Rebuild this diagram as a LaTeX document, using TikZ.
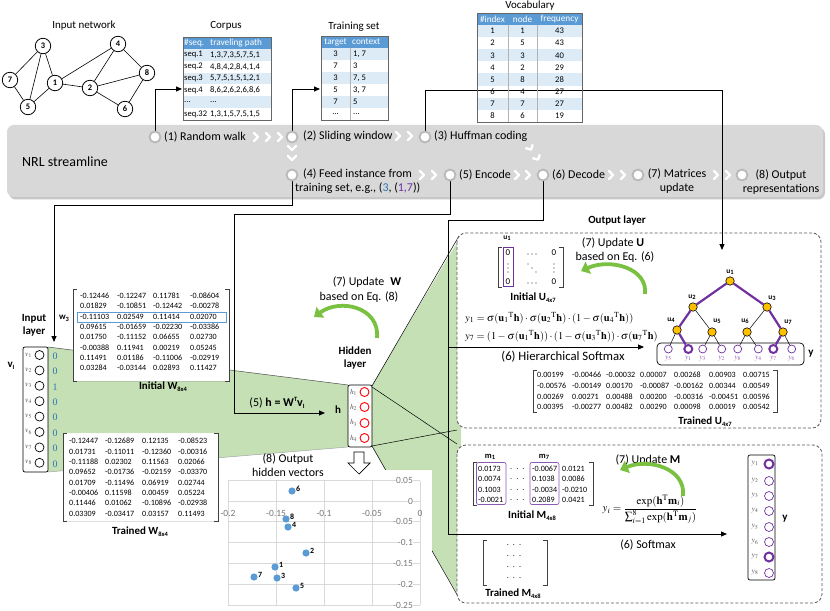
\documentclass[tikz,border=0pt]{standalone}
\usepackage{mathptmx}
\usepackage{fontspec}
\setmainfont{Carlito}
\newfontfamily\serifnum{Liberation Serif}
\usetikzlibrary{arrows.meta,shadows}
\definecolor{tblue}{RGB}{91,155,213}
\definecolor{tlight}{RGB}{221,235,247}
\definecolor{bandgray}{RGB}{216,216,216}
\definecolor{regreen}{RGB}{197,224,180}
\definecolor{arrgreen}{RGB}{122,193,66}
\definecolor{purp}{RGB}{112,48,160}
\definecolor{orng}{RGB}{255,192,0}
\definecolor{numblue}{RGB}{46,117,182}
\definecolor{dotblue}{RGB}{91,155,213}
\definecolor{axgray}{RGB}{120,120,120}
\definecolor{gridgray}{RGB}{217,217,217}
\newcommand\sbx[1]{\raisebox{-0.4ex}{\fontsize{6.5}{7}\selectfont\bfseries #1}}
\newcommand\tdots{.{}.{}.}
\begin{document}
\begin{tikzpicture}[x=1bp,y=-1bp,
  conn/.style={line width=0.9pt},
  arr/.style={line width=0.9pt,-{Triangle[length=6pt,width=5pt]}},
  net/.style={circle,draw,line width=0.8pt,fill=white,minimum size=15.5pt,inner sep=0pt,font=\fontsize{8.5}{9}\selectfont\bfseries},
  ttl/.style={font=\fontsize{11}{13}\selectfont,inner sep=0pt},
  tb/.style={font=\fontsize{8.6}{10}\selectfont,inner sep=0pt},
  tbh/.style={font=\fontsize{9.3}{10}\selectfont,inner sep=0pt,text=white},
  lbl/.style={font=\fontsize{12}{13.5}\selectfont,inner sep=0pt},
  mn/.style={font=\fontsize{8.1}{9}\selectfont,inner sep=0pt,anchor=west},
  btn/.style={circle,fill=white,draw=black!28,line width=1.8pt,minimum size=11pt,inner sep=0pt},
  chev/.style={white,line width=2.4pt,line cap=round,line join=round},
  bftxt/.style={font=\fontsize{11}{13}\selectfont\bfseries,inner sep=0pt},
  sm/.style={font=\fontsize{7.5}{8}\selectfont,inner sep=0pt},
  dbox/.style={draw=black!65,dash pattern=on 3pt off 2pt,line width=0.8pt,fill=white,rounded corners=9pt},
  garr/.style={arrgreen,line width=3.8pt,-{Triangle[length=8pt,width=13pt]}},
  shad/.style={drop shadow={shadow xshift=1.5pt,shadow yshift=-1.5pt,opacity=0.25}},
  brk/.style={line width=0.9pt,draw=black!75},
  tnode/.style={circle,draw,line width=0.6pt,fill=orng,minimum size=8.5pt,inner sep=0pt},
  leaf/.style={circle,draw=purp,line width=0.7pt,fill=white,minimum size=8pt,inner sep=0pt},
  leafb/.style={leaf,line width=2pt},
  pedge/.style={purp,line width=2.2pt},
  tedge/.style={line width=0.5pt},
  ulbl/.style={font=\fontsize{7.5}{8}\selectfont\bfseries,inner sep=0pt}
]
\useasboundingbox (0,0) rectangle (830,611);

% ---------------- green fans
\fill[regreen] (48,347) -- (348,385) -- (348,447) -- (48,472) -- cycle;
\fill[regreen] (372,385) -- (461,236) -- (461,600) -- (372,447) -- cycle;
\draw[black!70,line width=0.5pt] (48,347) -- (348,385);
\draw[black!35,line width=0.5pt] (48,472) -- (348,447);
\draw[line width=0.5pt] (372,386) -- (459,236);
\draw[line width=0.5pt] (372,446) -- (459,598);
\draw[line width=0.5pt] (372,387) -- (457,444);
\draw[line width=0.5pt] (372,446) -- (457,430);

% ---------------- input network
\node[ttl] at (84,26) {Input network};
\node[net] (n3) at (43,46) {3};
\node[net] (n4) at (118,44) {4};
\node[net] (n7) at (10,80) {7};
\node[net] (n1) at (55,83) {1};
\node[net] (n2) at (90,88) {2};
\node[net] (n8) at (147,73) {8};
\node[net] (n5) at (28,107) {5};
\node[net] (n6) at (125,109) {6};
\foreach \a/\b in {3/7,3/5,3/1,7/5,5/1,1/4,1/2,4/2,4/8,2/8,2/6,8/6}
  \draw[line width=0.6pt] (n\a) -- (n\b);

% ---------------- streamline band
\fill[black!22,rounded corners=7pt] (9,127.5) rectangle (825,199.5);
\fill[bandgray,rounded corners=7pt] (7,125) rectangle (823,197);
\node[font=\fontsize{14}{16}\selectfont,anchor=west,inner sep=0pt] at (22,162) {NRL streamline};

\coordinate (p1) at (155,137);
\coordinate (p2) at (292,137);
\coordinate (p3) at (425,137);
\coordinate (p4) at (292,175);
\coordinate (p5) at (450,175);
\coordinate (p6) at (543,175);
\coordinate (p7) at (638,175);
\coordinate (p8) at (742,175);

% ---------------- white boxes
\path[shad,fill=white] (73,289) rectangle (229,381);
\path[shad,fill=white] (63,433) rectangle (218,521);
\fill[white] (222,470) rectangle (432,611);
\draw[dbox] (457,233) rectangle (821,428);
\draw[dbox] (457,445) rectangle (822,603);

% ---------------- connectors
\coordinate (corpusin) at (182,89);
\coordinate (trainin) at (320,89);
\coordinate (treein) at (722,250);
\coordinate (inlayer) at (54,342);
\coordinate (hin) at (325,413);
\coordinate (hsm) at (644,347);
\coordinate (ssm) at (727,534);
\draw[arr] (p1) -- (155,89) -- (corpusin);
\draw[arr] (p2) -- (292,89) -- (trainin);
\draw[arr] (p3) -- (425,90) -- (722,90) -- (treein);
\draw[arr] (p4) -- (292,205) -- (54,205) -- (inlayer);
\draw[arr] (p5) -- (450,214) -- (234,214) -- (234,413) -- (hin);
\draw[arr] (p6) -- (543,220) -- (448,220) -- (448,534) -- (ssm);
\draw[arr] (448,347) -- (hsm);

% ---------------- corpus table
\node[ttl] at (226,26) {Corpus};
\fill[tblue] (183,37) rectangle (271,49);
\foreach \i in {0,2,4} \fill[tlight] (183,{49+\i*11.83}) rectangle (271,{49+(\i+1)*11.83});
\draw[black!60,line width=0.6pt] (183,37) rectangle (271,120);
\node[tbh,anchor=west] at (184,43) {\#seq.};
\node[tbh,anchor=west] at (210,43) {traveling path};
\foreach \i/\a/\b in {1/seq.1/{1,3,7,3,5,7,5,1},2/seq.2/{4,8,4,2,8,4,1,4},3/seq.3/{5,7,5,1,5,1,2,1},4/seq.4/{8,6,2,6,2,6,8,6},5/{\tdots}/{\tdots},6/seq.32/{1,3,1,5,7,5,1,5}}{
  \node[tb,anchor=west] at (184,{49+(\i-0.5)*11.83}) {\a};
  \node[tb,anchor=west] at (210,{49+(\i-0.5)*11.83}) {\b};
}

% ---------------- training set
\node[ttl] at (354,27) {Training set};
\fill[tblue] (321,36) rectangle (388,48);
\foreach \i in {0,2,4} \fill[tlight] (321,{48+\i*12}) rectangle (388,{48+(\i+1)*12});
\draw[black!30,line width=0.5pt] (350,48) -- (350,120);
\draw[black!60,line width=0.6pt] (321,36) rectangle (388,120);
\node[tbh] at (335.5,42) {target};
\node[tbh,anchor=west] at (352,42) {context};
\foreach \i/\a/\b in {1/3/{1, 7},2/7/3,3/3/{7, 5},4/5/{3, 7},5/7/5,6/{\tdots}/{\tdots}}{
  \node[tb] at (335.5,{48+(\i-0.5)*12}) {\a};
  \node[tb,anchor=west] at (353,{48+(\i-0.5)*12}) {\b};
}

% ---------------- vocabulary
\node[ttl] at (530,6) {Vocabulary};
\fill[tblue] (477,13) rectangle (582,25);
\foreach \i in {0,2,4,6} \fill[tlight] (477,{25+\i*12.125}) rectangle (582,{25+(\i+1)*12.125});
\draw[black!30,line width=0.5pt] (508,25) -- (508,122) (537,25) -- (537,122);
\draw[black!60,line width=0.6pt] (477,13) rectangle (582,122);
\node[tbh] at (492.5,19) {\#index};
\node[tbh] at (522.5,19) {node};
\node[tbh] at (559.5,19) {frequency};
\foreach \i/\a/\b/\c in {1/1/1/43,2/2/5/43,3/3/3/40,4/4/2/29,5/5/8/28,6/6/4/27,7/7/7/27,8/8/6/19}{
  \node[tb] at (492.5,{25+(\i-0.5)*12.125}) {\a};
  \node[tb] at (522.5,{25+(\i-0.5)*12.125}) {\b};
  \node[tb] at (559.5,{25+(\i-0.5)*12.125}) {\c};
}

% ---------------- buttons, chevrons, band texts
\foreach \i in {1,2,3,4,5,6,7,8} \node[btn] (c\i) at (p\i) {};
\foreach \x in {257,269,281} \draw[chev] (\x-3,133) -- (\x+1,137) -- (\x-3,141);
\foreach \x in {399,411} \draw[chev] (\x-3,132) -- (\x+1,136) -- (\x-3,140);
\foreach \y in {149,159} \draw[chev] (288,\y-3) -- (292,\y+1) -- (296,\y-3);
\draw[chev] (532.6,145.0) -- (531.1,149.6) -- (526.0,148.2);
\draw[chev] (539.6,155.0) -- (538.1,159.6) -- (533.0,158.2);
\foreach \x in {423,435,518,529,612,624,717,729} \draw[chev] (\x-3,171) -- (\x+1,175) -- (\x-3,179);

\node[lbl,anchor=west] at (164,137) {(1) Random walk};
\node[lbl,anchor=west] at (303,136) {(2) Sliding window};
\node[lbl,anchor=west] at (434,136) {(3) Huffman coding};
\node[lbl,anchor=west] at (303,174) {(4) Feed instance from};
\node[lbl,anchor=west] at (295,188) {training set, e.g., (\textcolor{numblue}{3}, (\textcolor{purp}{1,7}))};
\node[lbl,anchor=west] at (459,175) {(5) Encode};
\node[lbl,anchor=west] at (552,175) {(6) Decode};
\node[lbl,align=center] at (677,181) {(7) Matrices\\update};
\node[lbl,align=center] at (781,182) {(8) Output\\representations};

% ---------------- input layer
\node[bftxt,align=center] at (34,325) {Input\\layer};
\node[font=\fontsize{11}{13}\selectfont\bfseries,inner sep=0pt] at (11,366) {v\sbx{I}};
\node[draw,rounded corners=2pt,fill=white,minimum width=25bp,minimum height=125bp,inner sep=0pt,line width=0.7pt] (vbox) at (35.5,409.5) {};
\foreach \i/\v in {1/0,2/0,3/1,4/0,5/0,6/0,7/0,8/0}{
  \node[sm,text=black!70] at (28.5,{355+15.4*(\i-1)}) {$v_{\i}$};
  \draw[line width=0.7pt] (39.5,{355+15.4*(\i-1)}) circle (4.5);
  \node[inner sep=0pt,font=\serifnum\fontsize{10}{10}\selectfont,text=numblue] at (55,{356+15.4*(\i-1)}) {\v};
}

% ---------------- initial W
\draw[brk] (77,289) -- (73,289) -- (73,381) -- (77,381);
\draw[brk] (225,289) -- (229,289) -- (229,381) -- (225,381);
\draw[tblue,line width=0.7pt] (77,312) rectangle (226,322);
\node[font=\fontsize{9}{10}\selectfont\bfseries,inner sep=0pt] at (64,318) {w\sbx{3}};
\foreach \y/\a/\b/\c/\d in {296/-0.12446/-0.12247/0.11781/-0.08604,306/0.01829/-0.10851/-0.12442/-0.00278,317/-0.11103/0.02549/0.11414/0.02070,327/0.09615/-0.01659/-0.02230/-0.03386,337/0.01750/-0.11152/0.06655/0.02730,348/-0.00388/0.11941/0.00219/0.05245,358/0.11491/0.01186/-0.11006/-0.02919,368/0.03284/-0.03144/0.02893/0.11427}{
  \node[mn] at (80,\y) {\a};
  \node[mn] at (117,\y) {\b};
  \node[mn] at (153,\y) {\c};
  \node[mn] at (190,\y) {\d};
}
\node[bftxt] at (163,387) {Initial W\sbx{8x4}};

% ---------------- trained W
\draw[brk] (67,433) -- (63,433) -- (63,521) -- (67,521);
\draw[brk] (214,433) -- (218,433) -- (218,521) -- (214,521);
\foreach \y/\a/\b/\c/\d in {441/-0.12447/-0.12689/0.12135/-0.08523,452/0.01731/-0.11011/-0.12360/-0.00316,462/-0.11188/0.02302/0.11563/0.02066,472/0.09652/-0.01736/-0.02159/-0.03370,483/0.01709/-0.11496/0.06919/0.02744,493/-0.00406/0.11598/0.00459/0.05224,503/0.11446/0.01062/-0.10896/-0.02938,514/0.03309/-0.03417/0.03157/0.11493}{
  \node[mn] at (69,\y) {\a};
  \node[mn] at (105,\y) {\b};
  \node[mn] at (142,\y) {\c};
  \node[mn] at (178,\y) {\d};
}
\node[bftxt] at (140,532) {Trained W\sbx{8x4}};

% ---------------- hidden layer
\node[draw,rounded corners=2pt,fill=white,minimum width=24bp,minimum height=62bp,inner sep=0pt,line width=0.7pt] (hbox) at (360,416) {};
\foreach \i/\y in {1/392,2/407,3/423,4/438}{
  \node[sm,text=black!70] at (353.5,\y) {$h_{\i}$};
  \draw[red,line width=0.9pt] (364.5,\y) circle (4.5);
}
\node[bftxt] at (338,410) {h};
\node[lbl] at (277,403) {(5) \textbf{h = W}\raisebox{0.8ex}{\fontsize{6.5}{7}\selectfont\bfseries T}\textbf{v}\sbx{I}};
\node[bftxt,align=center] at (355,358) {Hidden\\layer};
\node[lbl] at (367,282) {(7) Update\enspace\textbf{W}};
\node[lbl] at (359,297) {based on Eq. (8)};
\draw[garr] (377,338) .. controls (380,307) and (340,298) .. (314,317);

% ---------------- scatter plot
\node[lbl,align=center] at (288,465) {(8) Output\\hidden vectors};
\draw[line width=0.7pt,fill=white] (354,452) -- (364,452) -- (364,463) -- (370,463) -- (359,474) -- (348,463) -- (354,463) -- cycle;
\foreach \v in {0.05,0,-0.05,-0.1,-0.15,-0.2,-0.25}
  \draw[gridgray,line width=0.7pt] (228,{501-\v*416}) -- (420,{501-\v*416});
\foreach \v in {-0.2,-0.15,-0.1,-0.05,0}
  \draw[gridgray,line width=0.7pt] ({420+\v*960},481) -- ({420+\v*960},605);
\foreach \v in {0.05,0,-0.05,-0.1,-0.15,-0.2,-0.25}
  \node[inner sep=0pt,anchor=east,font=\fontsize{9.5}{10}\selectfont,text=axgray,fill=white] at (413,{501-\v*416}) {\v};
\foreach \v in {-0.2,-0.15,-0.1,-0.05,0}
  \node[inner sep=0pt,font=\fontsize{9.5}{10}\selectfont,text=axgray] at ({420+\v*960},513) {\v};
\foreach \x/\y/\t in {292/491/6,286/519/8,288/527/4,306/553/2,275/567/1,254/577/7,277/578/3,296/588/5}{
  \fill[dotblue] (\x,\y) circle (3.6);
  \node[inner sep=0pt,anchor=west,font=\fontsize{8}{9}\selectfont\bfseries] at (\x+4,\y-2.5) {\t};
}

% ---------------- output layer (hierarchical softmax)
\node[bftxt] at (617,221) {Output layer};
\node[ulbl] at (507,238) {u\sbx{1}};
\draw[brk] (502,247) -- (498,247) -- (498,287) -- (502,287);
\draw[brk] (559,247) -- (563,247) -- (563,287) -- (559,287);
\draw[purp,line width=0.7pt] (503,247.5) rectangle (513,286.5);
\node[inner sep=0pt,font=\fontsize{9}{10}\selectfont] at (508,253) {0};
\node[inner sep=0pt,font=\fontsize{9}{10}\selectfont] at (554,253) {0};
\node[inner sep=0pt,font=\fontsize{9}{10}\selectfont] at (508,282) {0};
\node[inner sep=0pt,font=\fontsize{9}{10}\selectfont] at (554,282) {0};
\foreach \d in {-4,0,4}{
  \fill[black!80] (532+\d,254) circle (0.55);
  \fill[black!80] (532+\d,283) circle (0.55);
  \fill[black!80] (508,268+\d) circle (0.55);
  \fill[black!80] (554,268+\d) circle (0.55);
  \fill[black!80] (532+\d,268+\d) circle (0.55);
}
\node[bftxt] at (533,298) {Initial U\sbx{4x7}};
\node[lbl] at (613,243) {(7) Update \textbf{U}};
\node[lbl] at (615,257) {based on Eq. (6)};
\draw[garr] (645,294) .. controls (648,268) and (610,258) .. (581,271);
\node[inner sep=0pt,anchor=west,font=\fontsize{10.5}{12}\selectfont] at (465,318) {$y_1=\sigma(\mathbf{u}_1{}^{\mathrm{T}}\mathbf{h})\cdot\sigma(\mathbf{u}_2{}^{\mathrm{T}}\mathbf{h})\cdot(1-\sigma(\mathbf{u}_4{}^{\mathrm{T}}\mathbf{h}))$};
\node[inner sep=0pt,anchor=west,font=\fontsize{10.5}{12}\selectfont] at (465,336) {$y_7=(1-\sigma(\mathbf{u}_1{}^{\mathrm{T}}\mathbf{h}))\cdot(1-\sigma(\mathbf{u}_3{}^{\mathrm{T}}\mathbf{h}))\cdot\sigma(\mathbf{u}_7{}^{\mathrm{T}}\mathbf{h})$};
\node[lbl,font=\fontsize{12.8}{14}\selectfont] at (563,357) {(6) Hierarchical Softmax};

% tree
\draw[rounded corners=4pt,line width=0.7pt,fill=white] (657,343) rectangle (804,365);
\node[tnode] (u1) at (730,281) {};
\node[tnode] (u2) at (693,307) {};
\node[tnode] (u3) at (767,307) {};
\node[tnode] (u4) at (677,330) {};
\node[tnode] (u5) at (712,332) {};
\node[tnode] (u6) at (747,332) {};
\node[tnode] (u7) at (783,332) {};
\foreach \i/\x/\t in {1/668.3/5,2/688.3/1,3/702.7/3,4/721.7/2,5/737.7/8,6/758.3/4,7/773.3/7,8/791.7/6}{
  \node[sm,text=purp!80] at (\x,358.5) {$y_{\t}$};
}
\foreach \i/\x in {1/668.3,3/702.7,4/721.7,5/737.7,6/758.3,8/791.7} \node[leaf] (l\i) at (\x,349) {};
\node[leafb] (l2) at (688.3,349) {};
\node[leafb] (l7) at (773.3,349) {};
\draw[tedge] (u2) -- (u5);
\draw[tedge] (u3) -- (u6);
\draw[tedge] (u4) -- (l1);
\draw[tedge] (u5) -- (l3);
\draw[tedge] (u5) -- (l4);
\draw[tedge] (u6) -- (l5);
\draw[tedge] (u6) -- (l6);
\draw[tedge] (u7) -- (l8);
\draw[pedge] (u1) -- (u2);
\draw[pedge] (u2) -- (u4);
\draw[pedge] (u4) -- (l2);
\draw[pedge] (u1) -- (u3);
\draw[pedge] (u3) -- (u7);
\draw[pedge] (u7) -- (l7);
\node[ulbl] at (730,272) {u\sbx{1}};
\node[ulbl] at (692,297) {u\sbx{2}};
\node[ulbl] at (772,298) {u\sbx{3}};
\node[ulbl] at (671,320) {u\sbx{4}};
\node[ulbl] at (717,321) {u\sbx{5}};
\node[ulbl] at (745,321) {u\sbx{6}};
\node[ulbl] at (788,322) {u\sbx{7}};
\node[bftxt] at (811,354) {y};

% trained U
\draw[brk] (537,370) -- (533,370) -- (533,412) -- (537,412);
\draw[brk] (773,370) -- (777,370) -- (777,412) -- (773,412);
\foreach \y/\a/\b/\c/\d/\e/\f/\g in {375/0.00199/-0.00466/-0.00032/0.00007/0.00268/0.00903/0.00715,386/-0.00576/-0.00149/0.00170/-0.00087/-0.00162/0.00344/0.00549,397/0.00269/0.00271/0.00488/0.00200/-0.00316/-0.00451/0.00596,407/0.00395/-0.00277/0.00482/0.00290/0.00098/0.00019/0.00542}{
  \node[mn] at (537,\y) {\a};
  \node[mn] at (572,\y) {\b};
  \node[mn] at (606,\y) {\c};
  \node[mn] at (640,\y) {\d};
  \node[mn] at (674,\y) {\e};
  \node[mn] at (709,\y) {\f};
  \node[mn] at (743,\y) {\g};
}
\node[bftxt] at (705,422) {Trained U\sbx{4x7}};

% ---------------- softmax box
\node[ulbl,font=\fontsize{8.5}{9}\selectfont\bfseries] at (490,457) {m\sbx{1}};
\node[ulbl,font=\fontsize{8.5}{9}\selectfont\bfseries] at (544,457) {m\sbx{7}};
\draw[brk] (477,462) -- (473,462) -- (473,505) -- (477,505);
\draw[brk] (589,462) -- (593,462) -- (593,505) -- (589,505);
\draw[purp!80,line width=0.7pt,rounded corners=2pt] (476.5,462.5) rectangle (506,504.5);
\draw[purp!80,line width=0.7pt,rounded corners=2pt] (530,462.5) rectangle (559,504.5);
\foreach \y/\a/\b/\c in {469/0.0173/-0.0067/0.0121,479/0.0074/0.1038/0.0086,490/0.1003/-0.0034/-0.0210,500/-0.0021/0.2089/0.0421}{
  \node[mn] at (478,\y) {\a};
  \node[mn] at (510,\y) {.\enspace.\enspace.};
  \node[mn] at (532,\y) {\b};
  \node[mn] at (562,\y) {\c};
}
\node[bftxt] at (532,516) {Initial M\sbx{4x8}};
\node[lbl] at (648,460) {(7) Update \textbf{M}};
\draw[garr] (683,496) .. controls (686,468) and (648,458) .. (620,470);
\node[inner sep=0pt,font=\fontsize{11}{12}\selectfont] at (650,509) {$y_i=\displaystyle\frac{\exp(\mathbf{h}^{\mathrm{T}}\mathbf{m}_i)}{\textstyle\sum_{i=1}^{8}\exp(\mathbf{h}^{\mathrm{T}}\mathbf{m}_j)}$};
\node[lbl] at (648,545) {(6) Softmax};
\draw[brk] (487,540) -- (483,540) -- (483,585) -- (487,585);
\draw[brk] (543,540) -- (547,540) -- (547,585) -- (543,585);
\foreach \y in {545,556,567,578} \node[mn,anchor=center] at (514,\y) {.\enspace.\enspace.};
\node[bftxt] at (513,594) {Trained M\sbx{4x8}};

% y column
\node[draw,rounded corners=2pt,fill=white,minimum width=27bp,minimum height=125bp,inner sep=0pt,line width=0.7pt] (ybox) at (761.5,517.5) {};
\foreach \i/\y in {1/464,2/481,3/496,4/511,5/527,6/542,7/557,8/573}{
  \node[sm,text=black!70] at (755,\y) {$y_{\i}$};
}
\foreach \i/\y in {2/481,3/496,4/511,5/527,6/542,8/573} \node[leaf,minimum size=9pt] (yc\i) at (769,\y) {};
\node[leafb,minimum size=9pt] (yc1) at (769,464) {};
\node[leafb,minimum size=9pt] (yc7) at (769,557) {};
\node[bftxt] at (785,519) {y};
\end{tikzpicture}
\end{document}
